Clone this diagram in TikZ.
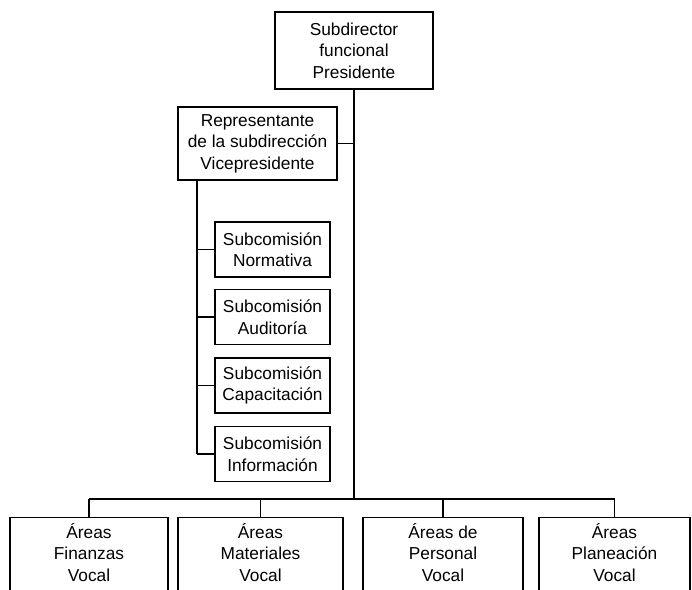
\documentclass[tikz,border=0pt]{standalone}
\usepackage{fontspec}
\setmainfont{Liberation Sans}
\begin{document}
\begin{tikzpicture}[x=1pt,y=-1pt,
  box/.style={draw, line width=1.1pt, rectangle, align=center, inner sep=0pt, font=\fontsize{17.3}{21.5}\selectfont},
  subbox/.style={box, minimum width=115pt, minimum height=55pt},
  areabox/.style={draw, line width=1.1pt, rectangle, inner sep=0pt, anchor=north, minimum height=110pt},
  txt/.style={align=center, inner sep=0pt, anchor=north, font=\fontsize{17.3}{21.5}\selectfont},
  link/.style={line width=1.1pt}]
\useasboundingbox (0,0) rectangle (692,589);
\clip (0,0) rectangle (692,589);
% top
\node[box, minimum width=158pt, minimum height=77pt] (pres) at (354,50.5) {Subdirector\\funcional\\Presidente};
\node[box, minimum width=159pt, minimum height=73pt] (vice) at (257.5,143.5) {Representante\\de la subdirección\\Vicepresidente};
% subcommissions
\node[subbox] (s1) at (272.5,249.5) {Subcomisión\\Normativa};
\node[subbox] (s2) at (272.5,317) {Subcomisión\\Auditoría};
\node[subbox] (s3) at (272.5,385.5) {Subcomisión\\Capacitación};
\node[subbox] (s4) at (272.5,454) {Subcomisión\\Información};
% bottom area boxes
\node[areabox, minimum width=158pt] (a1) at (89,517) {};
\node[areabox, minimum width=165pt] (a2) at (260.5,517) {};
\node[areabox, minimum width=160pt] (a3) at (443,517) {};
\node[areabox, minimum width=151pt] (a4) at (614.5,517) {};
\node[txt] (t1) at ([yshift=-6pt]a1.north) {Áreas\\Finanzas\\Vocal};
\node[txt] (t2) at ([yshift=-6pt]a2.north) {Áreas\\Materiales\\Vocal};
\node[txt] (t3) at ([yshift=-6pt]a3.north) {Áreas de\\Personal\\Vocal};
\node[txt] (t4) at ([yshift=-6pt]a4.north) {Áreas\\Planeación\\Vocal};
% coordinates
\coordinate (bus) at (354,499);
\coordinate (spine) at (197,180);
% connectors
\draw[link] (pres.south) -- (bus);
\draw[link] (vice.east) -- (vice.east -| pres.south);
\draw[link] (vice.south -| spine) -- (s4.west -| spine);
\foreach \s in {s1,s2,s3,s4} \draw[link] (\s.west -| spine) -- (\s.west);
\draw[link] (a1.north |- bus) -- (a4.north |- bus);
\foreach \a in {a1,a2,a3,a4} \draw[link] (\a.north |- bus) -- (\a.north);
\end{tikzpicture}
\end{document}
